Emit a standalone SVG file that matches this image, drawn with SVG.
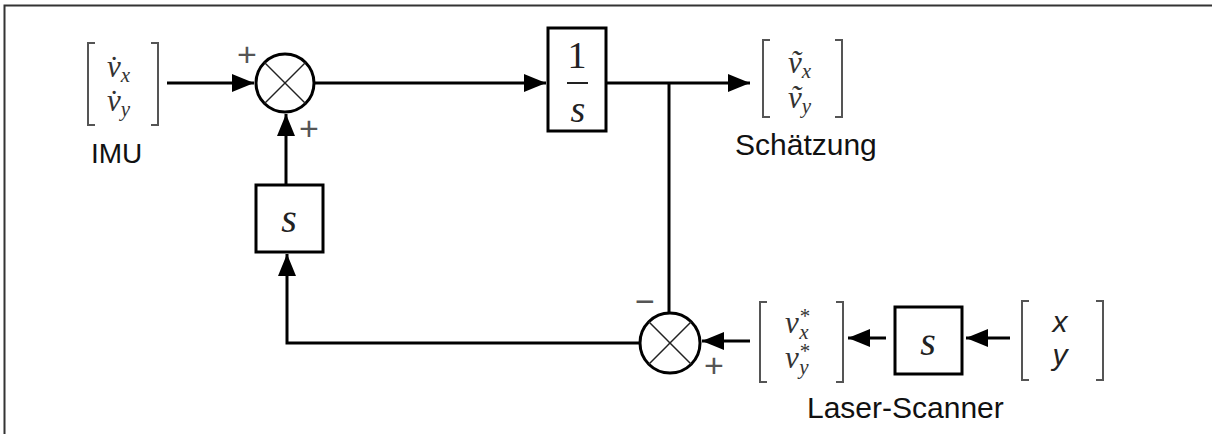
<svg xmlns="http://www.w3.org/2000/svg" width="1212" height="434" viewBox="0 0 1212 434">
<defs>
<style>
.ln{stroke:#000;stroke-width:3;fill:none}
.box{stroke:#000;stroke-width:3;fill:#fff}
.sum{stroke:#000;stroke-width:3;fill:#fff}
.cr{stroke:#222;stroke-width:1.5}
.br{stroke:#555;stroke-width:2;fill:none}
.m{font-family:"Liberation Serif",serif;font-style:italic;font-size:31px;fill:#333}
.sub{font-size:21px}
.big{font-family:"Liberation Serif",serif;font-style:italic;font-size:40px;fill:#222}
.num{font-family:"Liberation Serif",serif;font-size:38px;fill:#222}
.lbl{font-family:"Liberation Sans",Arial,sans-serif;font-size:30px;fill:#111}
.sm{font-family:"Liberation Sans",Arial,sans-serif;font-size:34px;fill:#555}
.si{font-family:"Liberation Sans",Arial,sans-serif;font-style:italic;font-size:30px;fill:#222}
</style>
<marker id="ah" viewBox="0 0 22 18" refX="22" refY="9" markerWidth="22" markerHeight="18" markerUnits="userSpaceOnUse" orient="auto">
<path d="M0,0 L22,9 L0,18 Z" fill="#000"/>
</marker>
</defs>
<rect width="1212" height="434" fill="#fff"/>
<path d="M4.5,434 V5.5 H1212" stroke="#333" stroke-width="2" fill="none"/>

<g id="connectors">
<line class="ln" x1="167" y1="83" x2="254" y2="83" marker-end="url(#ah)"/>
<line class="ln" x1="314" y1="83" x2="546" y2="83" marker-end="url(#ah)"/>
<line class="ln" x1="606" y1="83" x2="750" y2="83" marker-end="url(#ah)"/>
<line class="ln" x1="669" y1="83" x2="669" y2="313"/>
<line class="ln" x1="286" y1="185" x2="286" y2="114" marker-end="url(#ah)"/>
<polyline class="ln" points="640,343 287,343 287,254" marker-end="url(#ah)"/>
<line class="ln" x1="750" y1="341" x2="702" y2="341" marker-end="url(#ah)"/>
<line class="ln" x1="886" y1="338" x2="848" y2="338" marker-end="url(#ah)"/>
<line class="ln" x1="1010" y1="338" x2="966" y2="338" marker-end="url(#ah)"/>
</g>

<g id="imu">
<path class="br" d="M95,43 H88 V125 H95 M151,43 H158 V125 H151"/>
<text class="m" x="107" y="77">v&#x307;<tspan class="sub" dy="5">x</tspan></text>
<text class="m" x="107" y="111">v&#x307;<tspan class="sub" dy="5">y</tspan></text>
<text class="lbl" x="91" y="163" style="font-size:28px">IMU</text>
</g>

<g id="sum1">
<circle class="sum" cx="285" cy="83" r="29"/>
<line class="cr" x1="264.5" y1="62.5" x2="305.5" y2="103.5"/>
<line class="cr" x1="305.5" y1="62.5" x2="264.5" y2="103.5"/>
<text class="sm" x="247" y="66" text-anchor="middle">+</text>
<text class="sm" x="309" y="140" text-anchor="middle">+</text>
</g>

<g id="integrator">
<rect class="box" x="548" y="28" width="58" height="103"/>
<text class="num" x="577" y="68" text-anchor="middle">1</text>
<line x1="567" y1="83" x2="588" y2="83" stroke="#222" stroke-width="2"/>
<text class="big" x="578" y="122" text-anchor="middle" style="font-size:38px">s</text>
</g>

<g id="output">
<path class="br" d="M770,40 H763 V117 H770 M835,40 H842 V117 H835"/>
<text class="m" x="788" y="73">v&#x303;<tspan class="sub" dy="5">x</tspan></text>
<text class="m" x="788" y="108">v&#x303;<tspan class="sub" dy="5">y</tspan></text>
<text class="lbl" x="735" y="155">Schätzung</text>
</g>

<g id="diff-left">
<rect class="box" x="256" y="185" width="67" height="67"/>
<text class="big" x="289" y="232" text-anchor="middle">s</text>
</g>

<g id="sum2">
<circle class="sum" cx="670" cy="343" r="30"/>
<line class="cr" x1="648.8" y1="321.8" x2="691.2" y2="364.2"/>
<line class="cr" x1="691.2" y1="321.8" x2="648.8" y2="364.2"/>
<text class="sm" x="645" y="313" text-anchor="middle">−</text>
<text class="sm" x="714" y="377" text-anchor="middle">+</text>
</g>

<g id="vstar">
<path class="br" d="M767,302 H760 V382 H767 M836,302 H843 V382 H836"/>
<text class="m" x="785" y="333">v<tspan class="sub" dy="-10">*</tspan><tspan class="sub" dx="-10" dy="16">x</tspan></text>
<text class="m" x="785" y="368">v<tspan class="sub" dy="-10">*</tspan><tspan class="sub" dx="-10" dy="16">y</tspan></text>
</g>

<g id="diff-right">
<rect class="box" x="895" y="307" width="67" height="67"/>
<text class="big" x="928" y="355" text-anchor="middle">s</text>
</g>

<g id="laser">
<path class="br" d="M1029,301 H1022 V380 H1029 M1096,301 H1103 V380 H1096"/>
<text class="si" x="1060" y="332" text-anchor="middle">x</text>
<text class="si" x="1060" y="365" text-anchor="middle">y</text>
<text class="lbl" x="807" y="418">Laser-Scanner</text>
</g>
</svg>
